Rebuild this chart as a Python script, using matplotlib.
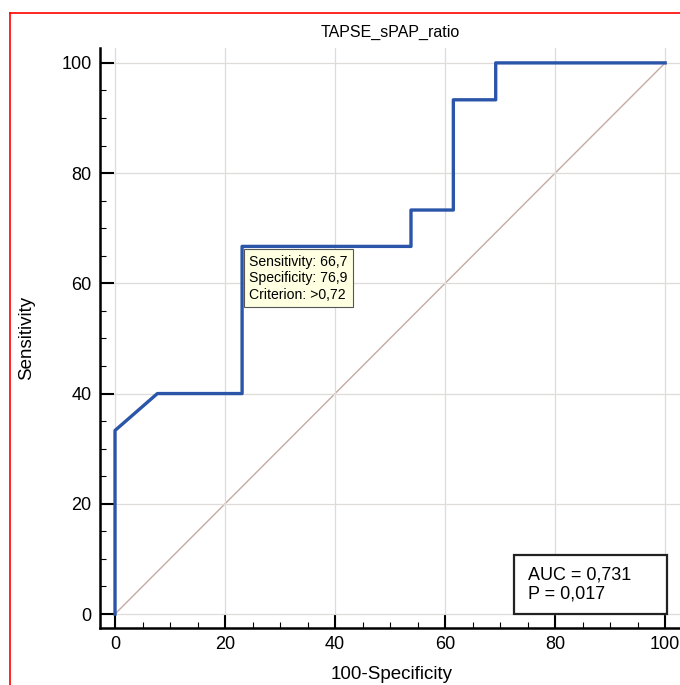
import matplotlib
matplotlib.use("Agg")
import matplotlib.pyplot as plt
from matplotlib.lines import Line2D
from matplotlib.patches import Rectangle
from matplotlib.ticker import MultipleLocator

plt.rcParams["font.family"] = ["Liberation Sans", "DejaVu Sans"]

# ROC curve points (100-Specificity, Sensitivity)
fpr = [0, 0, 7.7, 23.1, 23.1, 53.8, 53.8, 61.5, 61.5, 69.2, 69.2, 100]
tpr = [0, 33.3, 40, 40, 66.7, 66.7, 73.3, 73.3, 93.3, 93.3, 100, 100]

criterion_point = (23.1, 66.7)
criterion_text = "Sensitivity: 66,7\nSpecificity: 76,9\nCriterion: >0,72"
auc_text = "AUC = 0,731\nP = 0,017"
title = "TAPSE_sPAP_ratio"

fig = plt.figure(figsize=(6.8, 6.85), dpi=100)
ax = fig.add_axes([100 / 680, 57 / 685, 580 / 680, 580 / 685])

ax.set_xlim(-2.73, 102.7)
ax.set_ylim(-2.54, 102.7)

ax.grid(True, which="major", color="#dedbd8", linewidth=0.9, zorder=0)
ax.plot([0, 100], [0, 100], color="#c4aaa2", linewidth=1.0, zorder=1)
ax.plot(fpr, tpr, color="#2b55a8", linewidth=2.4, zorder=3)

for pos in ["right", "top"]:
    ax.spines[pos].set_visible(False)
for pos in ["left", "bottom"]:
    ax.spines[pos].set_linewidth(1.8)

ax.xaxis.set_major_locator(MultipleLocator(20))
ax.yaxis.set_major_locator(MultipleLocator(20))
ax.xaxis.set_minor_locator(MultipleLocator(5))
ax.yaxis.set_minor_locator(MultipleLocator(5))
ax.tick_params(which="major", direction="in", length=10, width=1.5,
               labelsize=13, pad=6)
ax.tick_params(which="minor", direction="in", length=4, width=0.8)

ax.set_title(title, fontsize=11.5, pad=8)
ax.set_xlabel("100-Specificity", fontsize=13.5)
ax.set_ylabel("Sensitivity", fontsize=13.5)
ax.xaxis.set_label_coords(0.503, -0.066)
ax.yaxis.set_label_coords(-0.112, 0.5)

# criterion tooltip
ax.annotate(criterion_text, xy=criterion_point, xytext=(5, -6),
            textcoords="offset points", ha="left", va="top",
            fontsize=10.1, linespacing=1.22, zorder=4,
            bbox=dict(boxstyle="square,pad=0.38", facecolor="#ffffe1",
                      edgecolor="#555555", linewidth=0.8))

# AUC box
ax.add_patch(Rectangle((72.5, 0), 27.9, 10.7, facecolor="white",
                       edgecolor="#222222", linewidth=1.6, zorder=5))
ax.text(75.0, 5.35, auc_text, ha="left", va="center", fontsize=13,
        linespacing=1.15, zorder=6)

# red frame
fig.add_artist(Line2D([10 / 680, 10 / 680], [0, 1 - 13 / 685],
                      color="red", linewidth=1.2, transform=fig.transFigure))
fig.add_artist(Line2D([10 / 680, 1], [1 - 13 / 685, 1 - 13 / 685],
                      color="red", linewidth=1.2, transform=fig.transFigure))

fig.savefig("out.png", dpi=100)
plt.close(fig)
